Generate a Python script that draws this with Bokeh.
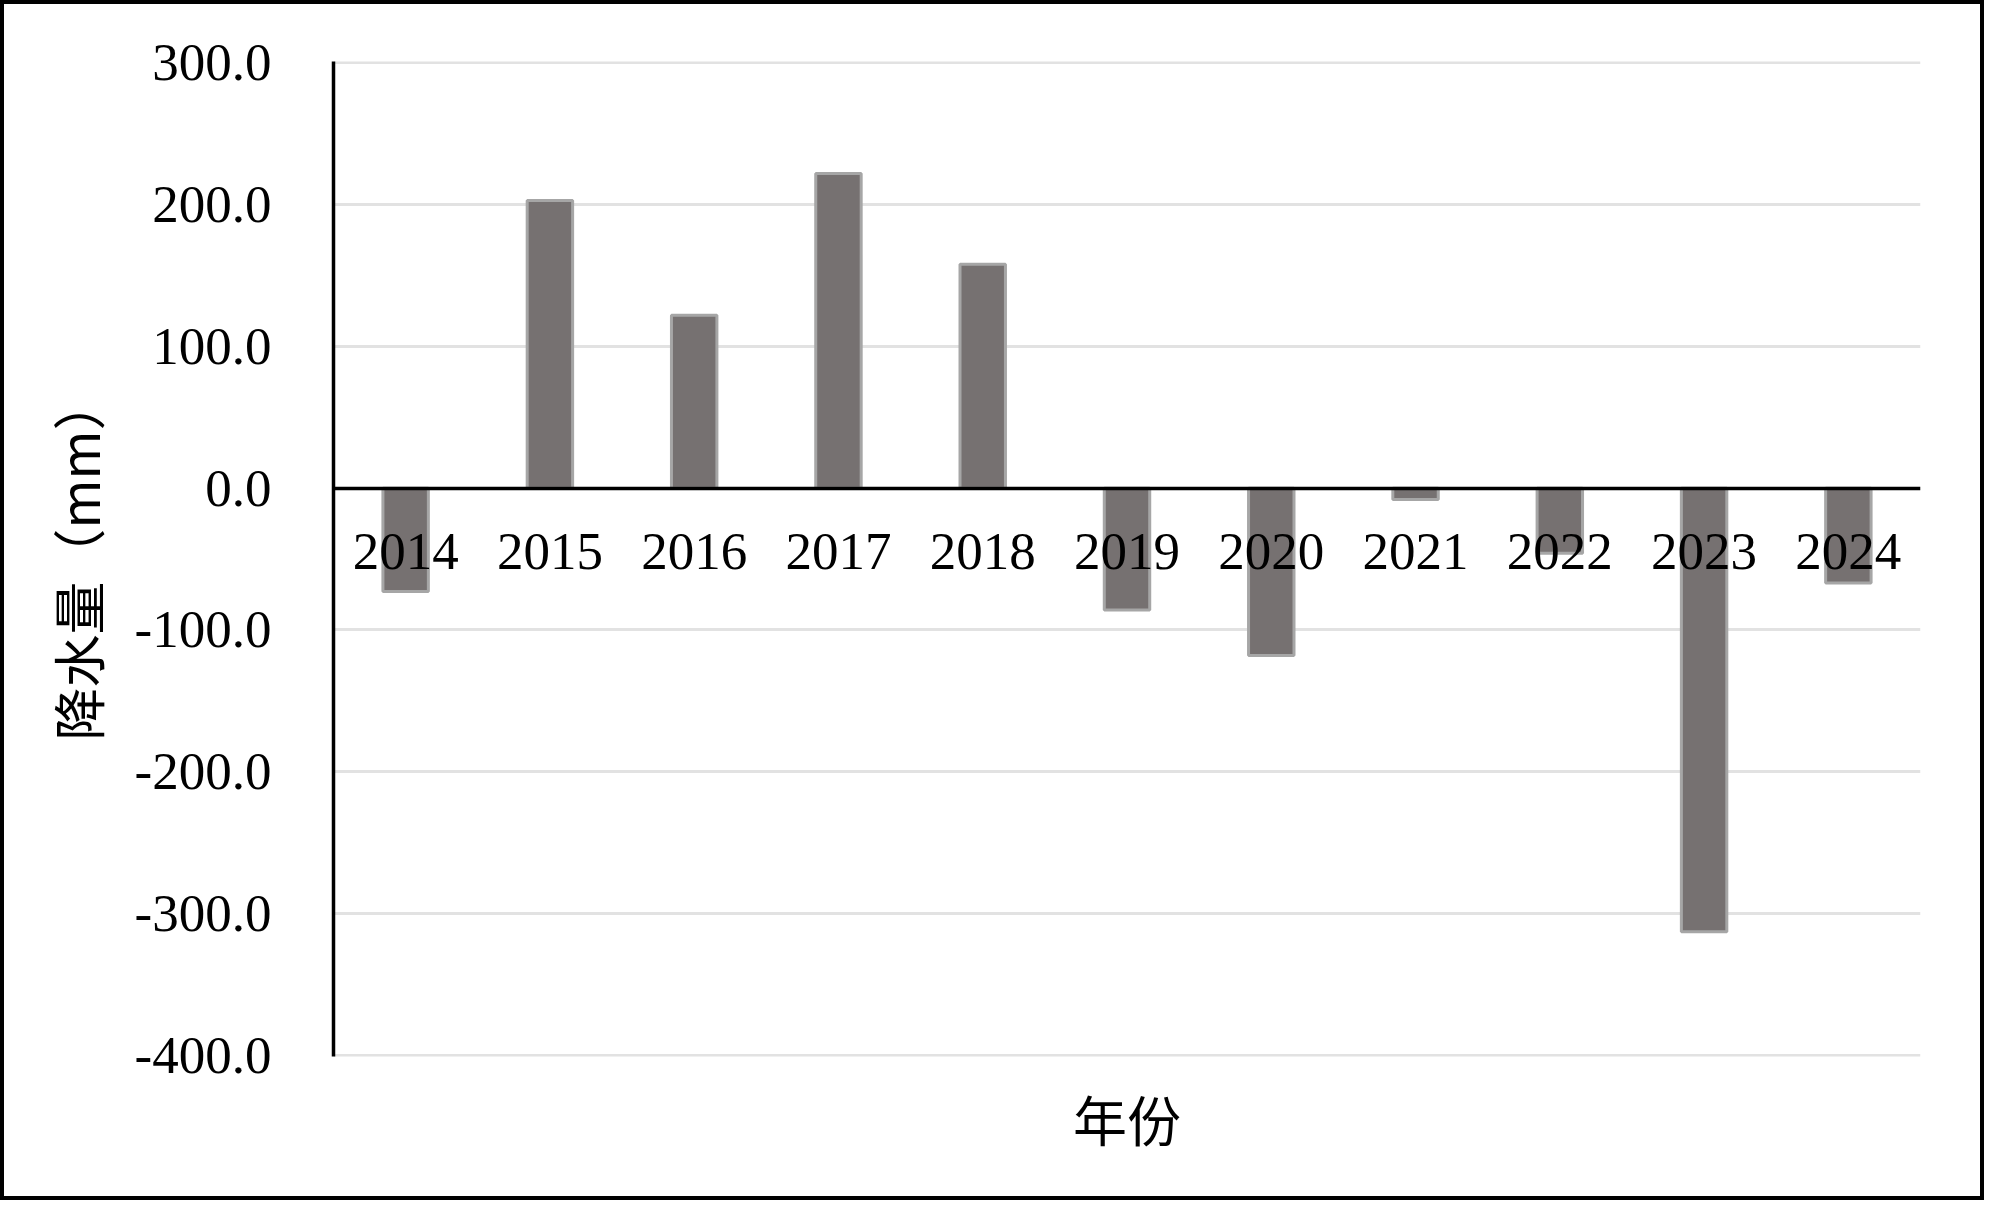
from bokeh.plotting import figure
from bokeh.models import FactorRange, Range1d, FixedTicker, NumeralTickFormatter, CategoricalAxis
from bokeh.embed import file_html
from bokeh.resources import INLINE

# ---- data ----
years = ["2014", "2015", "2016", "2017", "2018", "2019", "2020", "2021", "2022", "2023", "2024"]
anomaly = [-73, 203, 122, 222, 158, -86, -118, -8, -46, -313, -67]
y_ticks = [-400, -300, -200, -100, 0, 100, 200, 300]
x_title = "年份"
y_title = "降水量（mm）"

SERIF = "Liberation Serif"
CJK = "Noto Sans CJK SC"

p = figure(
    width=1984, height=1200,
    x_range=FactorRange(*years, range_padding=0),
    y_range=Range1d(-401, 301),
    output_backend="svg", toolbar_location=None,
    min_border_left=329, min_border_right=68,
    min_border_top=57, min_border_bottom=148,
)
p.styles = {"border": "4px solid black", "box-sizing": "border-box"}
p.outline_line_color = None
p.background_fill_color = "white"
p.border_fill_color = "white"

# bars
p.vbar(x=years, top=anomaly, width=0.315,
       fill_color="#767171", line_color="#a6a6a6", line_width=3)

# grid
p.xgrid.grid_line_color = None
p.ygrid.grid_line_color = "#e2e2e2"
p.ygrid.grid_line_width = 3

# y axis
ya = p.yaxis[0]
ya.ticker = FixedTicker(ticks=y_ticks)
ya.formatter = NumeralTickFormatter(format="0.0")
ya.major_label_text_font = SERIF
ya.major_label_text_font_size = "53px"
ya.major_label_text_color = "black"
ya.major_tick_line_color = None
ya.minor_tick_line_color = None
ya.major_tick_out = 0
ya.major_tick_in = 0
ya.minor_tick_out = 0
ya.minor_tick_in = 0
ya.major_label_standoff = 62
ya.axis_line_color = "black"
ya.axis_line_width = 3.5
ya.axis_label = y_title
ya.axis_label_text_font = CJK
ya.axis_label_text_font_size = "53px"
ya.axis_label_text_font_style = "normal"
ya.axis_label_text_color = "black"
ya.axis_label_standoff = 17

# x axis with year labels fixed at the zero line
xa = p.xaxis[0]
xa.fixed_location = 0
xa.major_label_text_font = SERIF
xa.major_label_text_font_size = "53px"
xa.major_label_text_color = "black"
xa.major_tick_line_color = None
xa.major_tick_out = 0
xa.major_tick_in = 0
xa.major_label_standoff = 46
xa.axis_line_color = "black"
xa.axis_line_width = 3.5

# bottom axis carrying only the title
xt = CategoricalAxis(
    axis_label=x_title,
    ticker=FixedTicker(ticks=[]),
    major_tick_line_color=None, major_tick_out=0, major_tick_in=0,
    minor_tick_out=0, minor_tick_in=0,
    axis_line_color=None,
    major_label_standoff=0,
    axis_label_standoff=22,
    axis_label_text_font=CJK,
    axis_label_text_font_size="54px",
    axis_label_text_font_style="normal",
    axis_label_text_color="black",
)
p.add_layout(xt, "below")

open("out.html", "w").write(file_html(p, INLINE))
